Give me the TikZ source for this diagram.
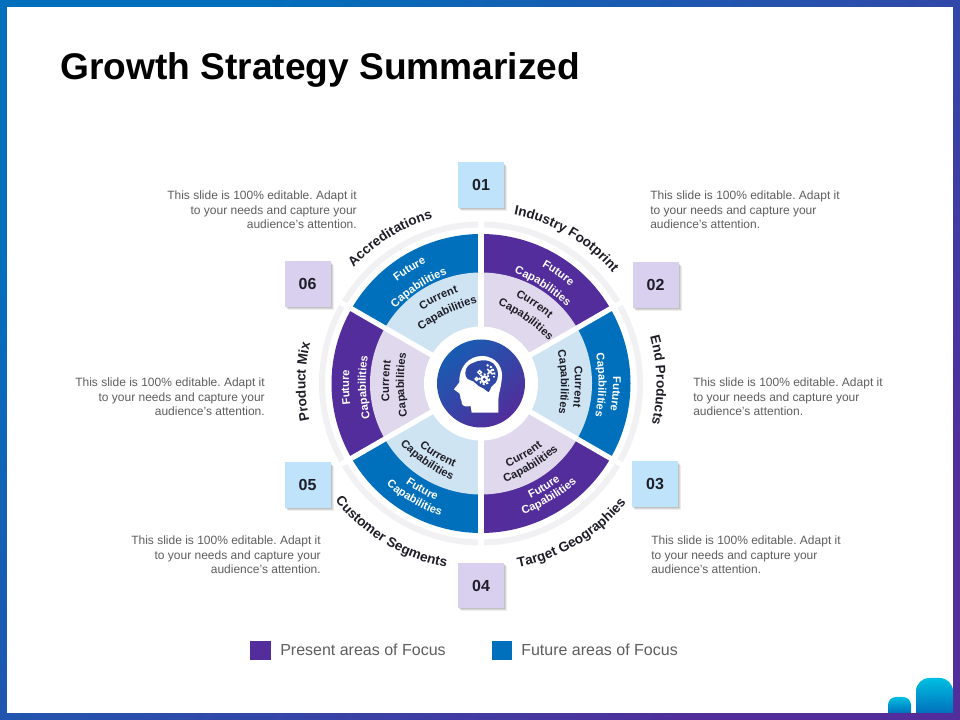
\documentclass[tikz,border=0pt]{standalone}
\usepackage{fontspec}
\setmainfont{Liberation Sans}
\usetikzlibrary{shadows,decorations.text}
\definecolor{cPurple}{HTML}{522D9B}
\definecolor{cBlue}{HTML}{0070BC}
\definecolor{cLtPurple}{HTML}{E0D8EC}
\definecolor{cLtBlue}{HTML}{CFE4F3}
\definecolor{cBoxPurple}{HTML}{D9CFEE}
\definecolor{cBoxBlue}{HTML}{BFE3FB}
\definecolor{cRing}{HTML}{F1F1F3}
\definecolor{cDark}{HTML}{1E1E28}
\definecolor{cGrey}{HTML}{5E5E5E}
\definecolor{cBrain}{HTML}{2F48A6}
\newcommand\wSmall{\fontsize{8.4}{10}\selectfont\bfseries\color{white}}
\newcommand\dSmall{\fontsize{8.4}{10}\selectfont\bfseries\color{cDark}}
\newcommand\dBig{\fontsize{10.2}{12}\selectfont\bfseries\color{cDark}}
% concentric text: mid angle, baseline radius, format macro, text
\newcommand\cwtxt[4]{\path[shift={(C)},decorate,decoration={text along path,text align=center,text={|#3|#4}}] (#1+65:#2) arc[start angle=#1+65,end angle=#1-65,radius=#2];}
\newcommand\ccwtxt[4]{\path[shift={(C)},decorate,decoration={text along path,text align=center,text={|#3|#4}}] (#1-65:#2) arc[start angle=#1-65,end angle=#1+65,radius=#2];}
% flatter text: same midpoint, radius of curvature 170
\newcommand\cwflat[4]{\path[shift={(C)},shift={(#1:#2-170)},decorate,decoration={text along path,text align=center,text={|#3|#4}}] (#1+35:170) arc[start angle=#1+35,end angle=#1-35,radius=170];}
\newcommand\ccwflat[4]{\path[shift={(C)},shift={(#1:#2-170)},decorate,decoration={text along path,text align=center,text={|#3|#4}}] (#1-35:170) arc[start angle=#1-35,end angle=#1+35,radius=170];}
\newcommand\sectorpie[3]{\fill[#3,shift={(C)}] (0,0) -- (#1:149.5) arc[start angle=#1,end angle=#2,radius=149.5] -- cycle;}
\newcommand\sectorcore[3]{\fill[#3,shift={(C)}] (0,0) -- (#1:111) arc[start angle=#1,end angle=#2,radius=111] -- cycle;}
\tikzset{
 numbox/.style={minimum width=34.5pt,minimum height=34pt,inner sep=0,font=\fontsize{12}{13}\selectfont\bfseries,text=cDark,
   drop shadow={shadow xshift=2.4pt,shadow yshift=-2.4pt,opacity=.07,fill=black},
   drop shadow={shadow xshift=1.7pt,shadow yshift=-1.7pt,opacity=.09,fill=black},
   drop shadow={shadow xshift=1pt,shadow yshift=-1pt,opacity=.10,fill=black}},
 desc/.style={inner sep=0,text=cGrey,font=\fontsize{9}{10.75}\selectfont\frenchspacing},
 legendtxt/.style={inner sep=0,text=cGrey,font=\fontsize{12}{14}\selectfont},
 gear/.style={white,line width=1pt},
}
\begin{document}
\begin{tikzpicture}[x=0.75pt,y=0.75pt]
\useasboundingbox (0,0) rectangle (960,720);
% frame
\shade[top color=cBlue,bottom color=cPurple,shading angle=45] (0,0) rectangle (960,720);
\fill[white] (7,7) rectangle (953,713);
% corner decoration
\shade[top color=cyan!55!cBlue,bottom color=cBlue] (916,7) [rounded corners=10pt] -- (916,42) -- (953,42) [sharp corners] -- (953,7) -- cycle;
\shade[top color=cyan!55!cBlue,bottom color=cBlue] (888,7) [rounded corners=6pt] -- (888,23) -- (911,23) [sharp corners] -- (911,7) -- cycle;
% title
\node[anchor=base west,inner sep=0,font=\fontsize{27.85}{30}\selectfont\bfseries,text=black] (title) at (60,640) {Growth Strategy Summarized};
\coordinate (C) at (481,336.5);
% ring
\draw[cRing,line width=4.5pt] (C) circle[radius=159];
% sectors
\sectorpie{30}{90}{cPurple}
\sectorpie{-30}{30}{cBlue}
\sectorpie{-90}{-30}{cPurple}
\sectorpie{-150}{-90}{cBlue}
\sectorpie{150}{210}{cPurple}
\sectorpie{90}{150}{cBlue}
\sectorcore{30}{90}{cLtPurple}
\sectorcore{-30}{30}{cLtBlue}
\sectorcore{-90}{-30}{cLtPurple}
\sectorcore{-150}{-90}{cLtBlue}
\sectorcore{150}{210}{cLtPurple}
\sectorcore{90}{150}{cLtBlue}
% separators
\foreach \a in {30,90,150,210,270,330}{\draw[white,line width=3.9pt,shift={(C)}] (0,0) -- (\a:168);}
\fill[white] (C) circle[radius=57];
\shade[top color=cBlue!70!cPurple,bottom color=cPurple,shading angle=40] (C) circle[radius=44];
% head icon
\begin{scope}[shift={(430,390)},x=0.25pt,y=-0.25pt]
\fill[white] (205,248) -- (125,248) -- (122,228) .. controls (110,231) and (100,230) .. (96,222) .. controls (93,215) and (96,208) .. (91,204) .. controls (94,198) and (88,194) .. (88,190) -- (72,178) -- (88,157) .. controls (86,110) and (118,78) .. (155,78) .. controls (200,78) and (222,115) .. (215,150) .. controls (212,180) and (205,190) .. (205,210) -- cycle;
\fill[cBrain] plot[smooth cycle,tension=.7] coordinates {(106,128) (114,108) (131,98) (155,91) (181,95) (198,111) (204,135) (197,158) (184,170) (176,186) (162,176) (146,168) (130,154) (112,146)};
\fill[white] (163,148) circle[radius=12];
\draw[white,line width=1.3pt,dash pattern=on 1.5pt off 1.3pt] (163,148) circle[radius=15];
\fill[cBrain] (163,148) circle[radius=5];
\draw[gear] (149,127) circle[radius=5.5];
\draw[gear] (140,147) circle[radius=4.5];
\draw[white,line width=1.2pt] (172,117) -- (188,133) (188,117) -- (172,133);
\draw[white,line width=1.5pt,dash pattern=on 1.5pt off 1.3pt] (170,105) arc[start angle=-80,end angle=20,radius=28];
\end{scope}
% inner labels
\cwflat{55}{132}{\wSmall}{Future}
\cwflat{57.6}{114}{\wSmall}{Capabilities}
\cwflat{56}{93}{\dSmall}{Current}
\cwflat{55}{77}{\dSmall}{Capabilities}
\cwflat{-4.5}{132}{\wSmall}{Future}
\cwflat{-0.7}{117.5}{\wSmall}{Capabilities}
\cwflat{-2}{94}{\dSmall}{Current}
\cwflat{1}{80}{\dSmall}{Capabilities}
\ccwflat{-58.7}{125}{\wSmall}{Future}
\ccwflat{-59}{137}{\wSmall}{Capabilities}
\ccwflat{-59}{87}{\dSmall}{Current}
\ccwflat{-58.5}{100}{\dSmall}{Capabilities}
\ccwflat{241}{125}{\wSmall}{Future}
\ccwflat{240}{138}{\wSmall}{Capabilities}
\ccwflat{238.8}{87}{\dSmall}{Current}
\ccwflat{235}{99}{\dSmall}{Capabilities}
\cwflat{181.7}{132}{\wSmall}{Future}
\cwflat{182}{115}{\wSmall}{Capabilities}
\cwflat{178.5}{92}{\dSmall}{Current}
\cwflat{181}{77}{\dSmall}{Capabilities}
\cwflat{122}{132}{\wSmall}{Future}
\cwflat{123}{113}{\wSmall}{Capabilities}
\cwflat{116.4}{93}{\dSmall}{Current}
\cwflat{115.5}{77}{\dSmall}{Capabilities}
% outer labels
\cwtxt{59.5}{172}{\dBig}{Industry Footprint}
\cwtxt{122}{172}{\dBig}{Accreditations}
\cwtxt{1}{175.5}{\dBig}{End Products}
\cwtxt{179.5}{175.5}{\dBig}{Product Mix}
\ccwtxt{-59}{188}{\dBig}{Target Geographies}
\ccwtxt{239}{187}{\dBig}{Customer Segments}
% number boxes
\node[numbox,fill=cBoxBlue] (n1) at (481,535) {01};
\node[numbox,fill=cBoxPurple] (n2) at (655.5,435) {02};
\node[numbox,fill=cBoxBlue] (n3) at (655,236) {03};
\node[numbox,fill=cBoxPurple] (n4) at (481,134.5) {04};
\node[numbox,fill=cBoxBlue] (n5) at (307.5,235) {05};
\node[numbox,fill=cBoxPurple] (n6) at (307.5,436) {06};
% descriptions
\node[desc,align=right,anchor=north east] (d6) at (357,529) {This slide is 100\% editable. Adapt it\\to your needs and capture your\\audience's attention.};
\node[desc,align=left,anchor=north west] (d1) at (650,529) {This slide is 100\% editable. Adapt it\\to your needs and capture your\\audience's attention.};
\node[desc,align=right,anchor=north east] (d5) at (265,342) {This slide is 100\% editable. Adapt it\\to your needs and capture your\\audience's attention.};
\node[desc,align=left,anchor=north west] (d2) at (693,342) {This slide is 100\% editable. Adapt it\\to your needs and capture your\\audience's attention.};
\node[desc,align=right,anchor=north east] (d4) at (321,184) {This slide is 100\% editable. Adapt it\\to your needs and capture your\\audience's attention.};
\node[desc,align=left,anchor=north west] (d3) at (651,184) {This slide is 100\% editable. Adapt it\\to your needs and capture your\\audience's attention.};
% legend
\fill[cPurple] (250,60) rectangle (271,79);
\fill[cBlue] (492,60) rectangle (512,79);
\node[legendtxt,anchor=base west] (l1) at (280,64.5) {Present areas of Focus};
\node[legendtxt,anchor=base west] (l2) at (521,64.5) {Future areas of Focus};
\end{tikzpicture}
\end{document}
